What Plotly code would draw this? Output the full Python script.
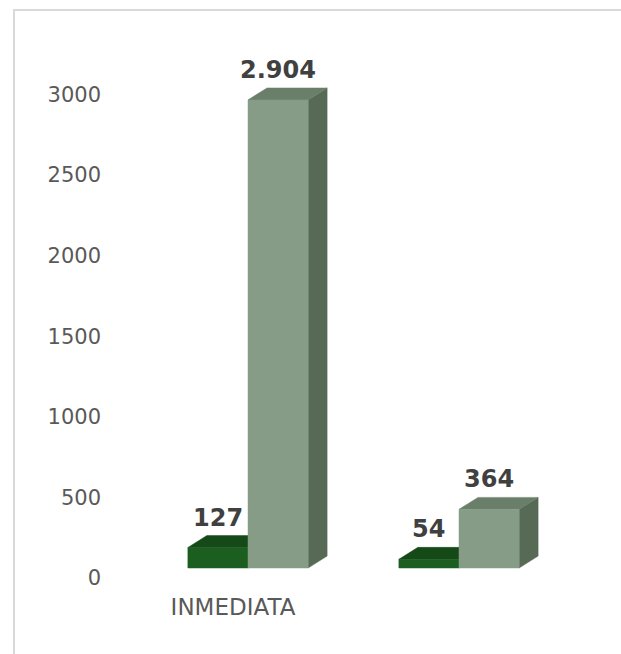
import plotly.graph_objects as go

# ---- data ----
categories = ["INMEDIATA", ""]
series_dark = [127, 54]
series_light = [2904, 364]
y_ticks = [0, 500, 1000, 1500, 2000, 2500, 3000]

# ---- style constants ----
BAR_W = 0.285          # bar width in category units
DX = 0.090             # 3D depth offset (x units)
DY = 74.0              # 3D depth offset (y units)
LABEL_SHIFT = -0.071   # category label offset
DARK = dict(front="#1b5e20", top="#154a18", side="#123f15")
LIGHT = dict(front="#869c86", top="#6a7f69", side="#566a56")

fig = go.Figure()


def poly(xs, ys, color):
    fig.add_trace(go.Scatter(
        x=xs, y=ys, fill="toself", fillcolor=color, mode="lines",
        line=dict(width=0.5, color=color), showlegend=False, hoverinfo="skip"))


def add_3d_bars(xs_left, values, col):
    for xl, v in zip(xs_left, values):
        xr = xl + BAR_W
        # side face
        poly([xr, xr + DX, xr + DX, xr, xr], [0, DY, v + DY, v, 0], col["side"])
        # top face
        poly([xl, xr, xr + DX, xl + DX, xl], [v, v, v + DY, v + DY, v], col["top"])
        # front face
        poly([xl, xr, xr, xl, xl], [0, 0, v, v, 0], col["front"])


idx = list(range(len(categories)))
add_3d_bars([i - BAR_W for i in idx], series_dark, DARK)
add_3d_bars([i for i in idx], series_light, LIGHT)

annotations = []
for i in idx:
    for off, v in ((-BAR_W / 2, series_dark[i]), (BAR_W / 2, series_light[i])):
        annotations.append(dict(
            x=i + off, y=v + DY, xref="x", yref="y",
            text=f"{v:,}".replace(",", "."), showarrow=False,
            yanchor="bottom", yshift=2,
            font=dict(family="DejaVu Sans", size=24, color="#404040", weight="bold")))

W, H = 621, 654
L, R, T, B = 110, 10, 20, 63
px_per_cat = 211.0
px_per_unit = 0.1612
x0_px, y0_px = 248.0, 568.0

x_range = [(L - x0_px) / px_per_cat, (W - R - x0_px) / px_per_cat]
y_range = [(y0_px - (H - B)) / px_per_unit, (y0_px - T) / px_per_unit]

pw = W - L - R
ph = H - T - B
fig.add_shape(type="rect", xref="paper", yref="paper",
              x0=(14 - L) / pw, x1=(W + 10 - L) / pw,
              y0=-(H + 10 - (H - B)) / ph, y1=1 + (T - 10) / ph,
              line=dict(color="#d9d9d9", width=2), fillcolor="rgba(0,0,0,0)", layer="below")

fig.update_layout(
    width=W, height=H,
    margin=dict(l=L, r=R, t=T, b=B),
    paper_bgcolor="white", plot_bgcolor="white",
    separators=",.",
    annotations=annotations,
    xaxis=dict(range=x_range, showgrid=False, zeroline=False, showline=False,
               tickmode="array", tickvals=[i + LABEL_SHIFT for i in idx], ticktext=categories,
               tickfont=dict(family="DejaVu Sans", size=23, color="#595959"), ticks=""),
    yaxis=dict(range=y_range, showgrid=False, zeroline=False, showline=False,
               tickmode="array", tickvals=y_ticks, ticks="",
               ticklabelshift=10, ticklabelstandoff=8,
               tickfont=dict(family="DejaVu Sans", size=21, color="#595959")),
)

fig.write_html("out.html", config={"displayModeBar": False},
               post_script="document.body.style.margin='0';")
